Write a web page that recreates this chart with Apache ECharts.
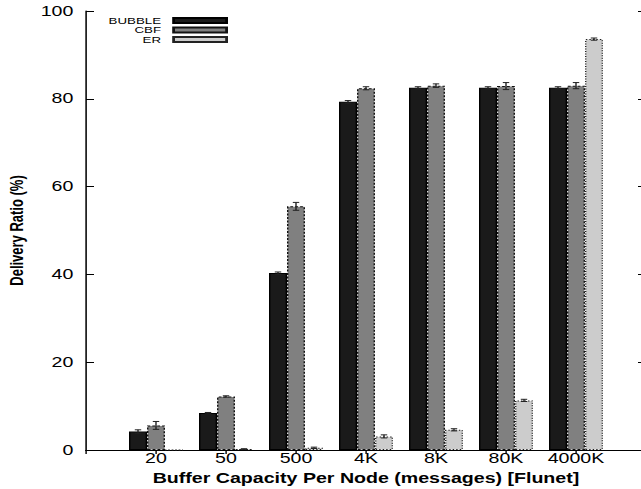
<!DOCTYPE html>
<html>
<head>
<meta charset="utf-8">
<script src="https://cdn.jsdelivr.net/npm/echarts@6/dist/echarts.min.js"></script>
<style>
html,body{margin:0;padding:0;background:#fff;overflow:hidden;width:641px;height:489px}
#c{width:470px;height:489px;transform:scaleX(1.4);transform-origin:0 0}
</style>
</head>
<body>
<div id="c"></div>
<script>
const categories = ['20', '50', '500', '4K', '8K', '80K', '4000K'];
const bubble = [4.2, 8.4, 40.3, 79.3, 82.5, 82.5, 82.5];
const cbf = [5.6, 12.2, 55.5, 82.4, 83.0, 82.9, 83.0];
const er = [0.0, 0.2, 0.5, 3.1, 4.6, 11.3, 93.6];
const bubbleErr = [0.4, 0.15, 0.25, 0.3, 0.25, 0.25, 0.25];
const cbfErr = [0.9, 0.15, 0.9, 0.35, 0.4, 0.8, 0.7];
const erErr = [0.0, 0.1, 0.15, 0.35, 0.25, 0.25, 0.25];
const yTicks = [0, 20, 40, 60, 80, 100];

// the original figure is horizontally stretched; the chart is drawn narrower and scaled by CSS
const S = 1.4;
// pad categories so that the axis runs from 0 to 8 (gnuplot-style range)
const cats = [''].concat(categories, ['']);
const pad = a => [null].concat(a, [null]);

const chart = echarts.init(document.getElementById('c'), null, {renderer: 'svg'});
const font = 'Liberation Sans, Arial, Helvetica, sans-serif';
const BW = 18 / S;

function errSeries(vals, errs, offset) {
  const data = vals.map((v, i) => [i + 1, v, errs[i]]);
  return {
    type: 'custom',
    silent: true,
    z: 5,
    xAxisIndex: 0, yAxisIndex: 0,
    renderItem: function (params, api) {
      const x = api.value(0), v = api.value(1), e = api.value(2);
      if (!(v > 0)) return null;
      const lo = api.coord([x, v - e]);
      const hi = api.coord([x, v + e]);
      const cx = lo[0] + offset;
      const cap = 2.3;
      const st = {stroke: '#222', lineWidth: 1};
      return {
        type: 'group',
        children: [
          {type: 'line', shape: {x1: cx, y1: lo[1], x2: cx, y2: hi[1]}, style: st},
          {type: 'line', shape: {x1: cx - cap, y1: lo[1], x2: cx + cap, y2: lo[1]}, style: st},
          {type: 'line', shape: {x1: cx - cap, y1: hi[1], x2: cx + cap, y2: hi[1]}, style: st}
        ]
      };
    },
    data: data
  };
}

const legendBase = {
  orient: 'vertical',
  right: 470 - 228 / S,
  itemWidth: 53 / S,
  itemHeight: 5,
  itemGap: 0,
  align: 'right',
  padding: 0,
  icon: 'rect',
  textStyle: {fontFamily: font, fontSize: 9.5, color: '#000', padding: [0, 4, 0, 0], lineHeight: 9}
};

const option = {
  animation: false,
  backgroundColor: '#fff',
  grid: {left: 86 / S, top: 11, width: 560 / S, height: 439, containLabel: false, outerBoundsMode: 'none'},
  legend: [
    Object.assign({}, legendBase, {top: 15.5, data: ['BUBBLE']}),
    Object.assign({}, legendBase, {top: 25, data: ['CBF']}),
    Object.assign({}, legendBase, {top: 34.5, data: ['ER']})
  ],
  xAxis: [{
    type: 'category',
    data: cats,
    boundaryGap: false,
    axisLine: {show: true, lineStyle: {color: '#000', width: 1.2}},
    axisTick: {show: false},
    axisLabel: {fontFamily: font, fontSize: 14, color: '#000', margin: 2, interval: 0, lineHeight: 13},
    name: 'Buffer Capacity Per Node (messages) [Flunet]',
    nameLocation: 'middle',
    nameGap: 22,
    nameMoveOverlap: false,
    nameTextStyle: {fontFamily: font, fontSize: 14, fontWeight: 'bold', color: '#000', lineHeight: 13}
  }, {
    type: 'category',
    data: cats,
    boundaryGap: false,
    position: 'top',
    axisLine: {show: true, lineStyle: {color: '#000', width: 1.2}},
    axisTick: {show: true, inside: true, length: 4, interval: 0, lineStyle: {color: '#000'}},
    axisLabel: {show: false}
  }],
  yAxis: [{
    type: 'value',
    min: 0, max: 100, interval: 20,
    axisLine: {show: true, lineStyle: {color: '#000', width: 1.1}},
    axisTick: {show: true, inside: true, length: 8 / S, lineStyle: {color: '#000'}},
    splitLine: {show: false},
    axisLabel: {fontFamily: font, fontSize: 14, color: '#000', margin: 9, customValues: yTicks},
    name: 'Delivery Ratio (%)',
    nameLocation: 'middle',
    nameGap: 35,
    nameTextStyle: {fontFamily: font, fontSize: 13, fontWeight: 'bold', color: '#000'}
  }, {
    type: 'value',
    min: 0, max: 100, interval: 20,
    position: 'right',
    axisLine: {show: true, lineStyle: {color: '#000', width: 1.1}},
    axisTick: {show: true, inside: true, length: 8 / S, lineStyle: {color: '#000'}},
    splitLine: {show: false},
    axisLabel: {show: false}
  }],
  series: [
    {name: 'BUBBLE', type: 'bar', data: pad(bubble), barWidth: BW, barGap: '0%',
      itemStyle: {color: '#1a1a1a', borderColor: '#000', borderWidth: 1}},
    {name: 'CBF', type: 'bar', data: pad(cbf), barWidth: BW, barGap: '0%',
      itemStyle: {color: '#808080', borderColor: '#111', borderWidth: 1, borderType: [2, 1.5]}},
    {name: 'ER', type: 'bar', data: pad(er), barWidth: BW, barGap: '0%',
      itemStyle: {color: '#cccccc', borderColor: '#222', borderWidth: 1, borderType: [1, 1.5]}},
    errSeries(bubble, bubbleErr, -BW),
    errSeries(cbf, cbfErr, 0),
    errSeries(er, erErr, BW)
  ]
};
chart.setOption(option);
</script>
</body>
</html>
